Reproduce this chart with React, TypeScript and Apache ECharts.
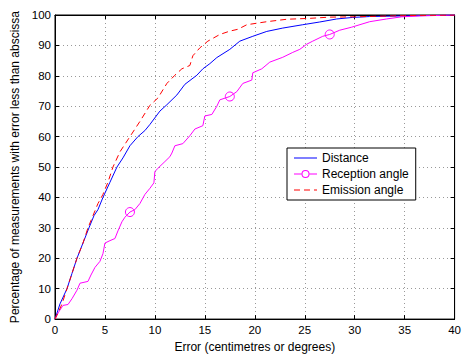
import React, { useEffect, useRef } from "react";
import * as echarts from "echarts";

const distance: number[][] = [
  [0, 0], [0.5, 5], [1.2, 10], [1.7, 15], [2.2, 20], [2.8, 25], [3.4, 30], [3.9, 34],
  [4.3, 36], [4.8, 40], [5.5, 45], [6.2, 50], [6.8, 53], [7.5, 57], [8.3, 60], [9.0, 62],
  [9.5, 64], [10.5, 68.4], [11.2, 70.5], [12.2, 73.7], [13.0, 77.2], [14.2, 80.2],
  [14.8, 82.3], [15.5, 84], [16.2, 86], [17.5, 88.7], [18.5, 91.4], [19.8, 93],
  [21.2, 94.6], [22.8, 95.7], [24.8, 96.8], [26.5, 97.7], [28.2, 98.7], [29.8, 99.2],
  [31.5, 99.5], [35, 99.7], [40, 100],
];

const reception: number[][] = [
  [0, 0], [0.3, 2], [0.8, 4.5], [1.3, 4.8], [1.7, 6.7], [2.2, 9.5], [2.5, 11.8],
  [3.3, 12.4], [3.6, 14.5], [4.0, 17], [4.5, 19], [4.8, 21.5], [5.0, 25], [5.5, 25.8],
  [6.0, 26.5], [6.3, 29], [6.7, 32], [7.0, 33.5], [7.5, 35.2], [8.0, 36], [8.5, 38],
  [9.0, 41], [9.5, 43], [9.9, 44.8], [10.0, 48.5], [10.3, 49.6], [11.0, 51.8],
  [11.5, 53.4], [11.7, 54.6], [12.0, 57], [12.8, 57.7], [13.5, 60.3], [14.0, 62.5],
  [14.8, 63.6], [15.0, 66.8], [15.7, 67.3], [16.2, 70], [16.5, 72.1], [17.5, 73.2],
  [18.2, 74.8], [18.8, 77.5], [19.7, 78.6], [19.8, 81], [20.7, 82.3], [21.5, 84.5],
  [22.8, 86.1], [23.8, 87.7], [24.5, 88.7], [25.2, 90.4], [25.8, 91.4], [26.8, 93],
  [27.5, 93.6], [28.5, 95], [29.7, 96], [31.5, 97.8], [33.2, 98.7], [34.7, 99.4],
  [36.5, 99.7], [40, 100],
];

const receptionMarkersX = [7.5, 17.5, 27.5];

const emission: number[][] = [
  [0, 0], [0.3, 2], [0.7, 5], [1.2, 10], [1.7, 15], [2.2, 20], [2.8, 25], [3.3, 30],
  [3.8, 34], [4.3, 38], [4.8, 41], [5.3, 45], [5.8, 50], [6.5, 55], [7.5, 60], [8.5, 65],
  [9.5, 70.3], [10.3, 72.7], [11.2, 77.5], [12.0, 80.2], [12.7, 82.3], [13.5, 83.4],
  [13.8, 86.6], [14.5, 89.2], [15.3, 91.4], [16.5, 93.6], [17.5, 94.7], [18.3, 95.3],
  [19.2, 96.8], [21.2, 97.8], [23.2, 98.6], [25.5, 98.9], [27.5, 99.3], [30, 99.4],
  [35, 99.8], [40, 100],
];

const seriesNames = ["Distance", "Reception angle", "Emission angle"];
const xAxisTitle = "Error (centimetres or degrees)";
const yAxisTitle = "Percentage of measurements with error less than abscissa";

const FONT = "Liberation Sans, Arial, Helvetica, sans-serif";

// legend icons (23 x 10 box; zero-area corner points fix the bounding box)
const BOX = "M0,0L0.01,0Z M23,10L22.99,10Z ";
const ICON_SOLID = "path://" + BOX + "M0,4.5L23,4.5L23,5.5L0,5.5Z";
const ICON_DASHED = "path://" + BOX + "M0,4.5L6,4.5L6,5.5L0,5.5Z M10,4.5L16,4.5L16,5.5L10,5.5Z M20,4.5L23,4.5L23,5.5L20,5.5Z";
const ICON_CIRCLE =
  "path://" + BOX +
  "M0,4.5L7.5,4.5L7.5,5.5L0,5.5Z M15.5,4.5L23,4.5L23,5.5L15.5,5.5Z " +
  "M15.5,5A4,4 0 1,1 7.5,5A4,4 0 1,1 15.5,5Z M14.5,5A3,3 0 1,0 8.5,5A3,3 0 1,0 14.5,5Z";

export default function App() {
  const ref = useRef<HTMLDivElement>(null);
  useEffect(() => {
    if (!ref.current) return;
    const chart = echarts.init(ref.current, undefined, { renderer: "svg" });
    const tickStyle = { inside: true, length: 4, lineStyle: { color: "#000" } };
    const splitStyle = { show: true, lineStyle: { color: "#999", type: [1, 3] as any, width: 1 } };
    chart.setOption({
      animation: false,
      backgroundColor: "#fff",
      grid: { left: 55, right: 9, top: 15, bottom: 32, show: true, borderColor: "#000", borderWidth: 1, backgroundColor: "transparent" },
      legend: {
        orient: "vertical",
        left: 287,
        top: 148,
        padding: [4, 7, 4, 7],
        itemGap: 4,
        itemWidth: 23,
        itemHeight: 10,
        backgroundColor: "#fff",
        borderColor: "#000",
        borderWidth: 1,
        borderRadius: 0,
        itemStyle: { borderWidth: 0 },
        textStyle: { fontFamily: FONT, fontSize: 12, color: "#000" },
        data: [
          { name: seriesNames[0], icon: ICON_SOLID, itemStyle: { color: "#0000ff", borderWidth: 0 } },
          { name: seriesNames[1], icon: ICON_CIRCLE, itemStyle: { color: "#ff00ff", borderWidth: 0 } },
          { name: seriesNames[2], icon: ICON_DASHED, itemStyle: { color: "#ff0000", borderWidth: 0 } },
        ],
      },
      xAxis: [
        {
          type: "value",
          min: 0,
          max: 40,
          interval: 5,
          position: "bottom",
          name: xAxisTitle,
          nameLocation: "middle",
          nameGap: 20,
          nameTextStyle: { fontFamily: FONT, fontSize: 12, color: "#000" },
          axisLine: { show: true, onZero: false, lineStyle: { color: "#000" } },
          axisTick: tickStyle,
          axisLabel: { fontFamily: FONT, fontSize: 11.5, color: "#000", margin: 5 },
          splitLine: splitStyle,
        },
        {
          type: "value",
          min: 0,
          max: 40,
          interval: 5,
          position: "top",
          axisLine: { show: true, onZero: false, lineStyle: { color: "#000" } },
          axisTick: tickStyle,
          axisLabel: { show: false },
          splitLine: { show: false },
        },
      ],
      yAxis: [
        {
          type: "value",
          min: 0,
          max: 100,
          interval: 10,
          position: "left",
          name: yAxisTitle,
          nameLocation: "middle",
          nameGap: 30,
          nameTextStyle: { fontFamily: FONT, fontSize: 12, color: "#000" },
          axisLine: { show: true, onZero: false, lineStyle: { color: "#000" } },
          axisTick: tickStyle,
          axisLabel: { fontFamily: FONT, fontSize: 11.5, color: "#000", margin: 4 },
          splitLine: splitStyle,
        },
        {
          type: "value",
          min: 0,
          max: 100,
          interval: 10,
          position: "right",
          axisLine: { show: true, onZero: false, lineStyle: { color: "#000" } },
          axisTick: tickStyle,
          axisLabel: { show: false },
          splitLine: { show: false },
        },
      ],
      series: [
        {
          name: seriesNames[0],
          type: "line",
          data: distance,
          symbol: "none",
          lineStyle: { color: "#0000ff", width: 1 },
          itemStyle: { color: "#0000ff" },
        },
        {
          name: seriesNames[1],
          type: "line",
          data: reception,
          symbol: "circle",
          showSymbol: true,
          symbolSize: (v: number[]) => (receptionMarkersX.includes(v[0]) ? 9 : 0),
          lineStyle: { color: "#ff00ff", width: 1 },
          itemStyle: { color: "rgba(255,255,255,0)", borderColor: "#ff00ff", borderWidth: 1 },
        },
        {
          name: seriesNames[2],
          type: "line",
          data: emission,
          symbol: "none",
          lineStyle: { color: "#ff0000", width: 1, type: [6, 4] },
          itemStyle: { color: "#ff0000" },
        },
      ],
    });
    return () => chart.dispose();
  }, []);
  return <div ref={ref} style={{ position: "fixed", left: 0, top: 0, width: 464, height: 358 }} />;
}
